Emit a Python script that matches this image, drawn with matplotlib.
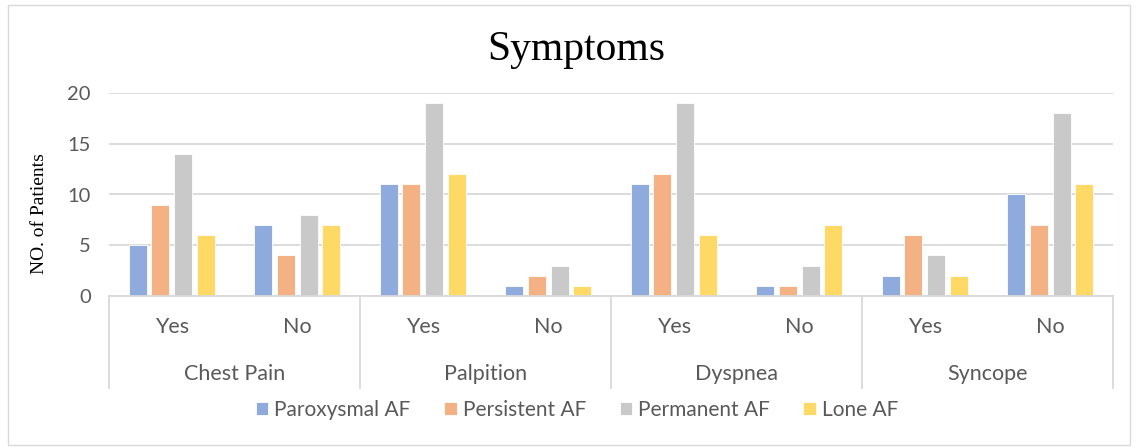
import numpy as np
import matplotlib
matplotlib.use("Agg")
import matplotlib.pyplot as plt
from matplotlib.patches import Rectangle
import matplotlib.transforms as mtransforms

symptoms = ["Chest Pain", "Palpition", "Dyspnea", "Syncope"]
answers = ["Yes", "No"]
series = ["Paroxysmal AF", "Persistent AF", "Permanent AF", "Lone AF"]
paroxysmal = [5, 7, 11, 1, 11, 1, 2, 10]
persistent = [9, 4, 11, 2, 12, 1, 6, 7]
permanent = [14, 8, 19, 3, 19, 3, 4, 18]
lone = [6, 7, 12, 1, 6, 7, 2, 11]
colors = ["#8FAADC", "#F4B183", "#C9C9C9", "#FFD966"]

W, H = 1136, 448
fig = plt.figure(figsize=(W / 100, H / 100), dpi=100)
fig.patches.append(Rectangle((8 / W, 3 / H), 1122 / W, 440 / H, transform=fig.transFigure,
                             fill=False, edgecolor="#D9D9D9", linewidth=1))

left, right, y0, y20 = 109, 1113, 296, 93
ax = fig.add_axes([left / W, 1 - y0 / H, (right - left) / W, (y0 - y20) / H])

x = np.arange(len(paroxysmal))
step, width = 0.181, 0.143
for i, (vals, name, c) in enumerate(zip([paroxysmal, persistent, permanent, lone], series, colors)):
    ax.bar(x + (i - 1.5) * step, vals, width, color=c, edgecolor="white", linewidth=0.6,
           label=name, zorder=3)

ax.set_xlim(-0.5, len(x) - 0.5)
ax.set_ylim(0, 20)
ax.set_yticks([0, 5, 10, 15, 20])
ax.yaxis.grid(True, color="#D9D9D9", linewidth=1.3, zorder=0)
for s in ["top", "right", "left"]:
    ax.spines[s].set_visible(False)
ax.spines["bottom"].set_color("#D9D9D9")
ax.spines["bottom"].set_linewidth(1.3)
ax.spines["bottom"].set_zorder(4)
ax.tick_params(axis="y", length=0, labelsize=14.5, labelcolor="#595959", pad=13)
ax.tick_params(axis="x", length=0, labelbottom=False)
for lbl in ax.get_yticklabels():
    lbl.set_fontfamily("Lato")

# two-level category axis
trans = mtransforms.blended_transform_factory(ax.transData, ax.transAxes)
for k in range(len(symptoms) + 1):
    xb = -0.5 + 2 * k
    ax.plot([xb, xb], [0, -0.453], transform=trans, color="#D9D9D9", linewidth=1.3, clip_on=False)
for j in range(len(x)):
    ax.text(j, -0.153, answers[j % 2], transform=trans, ha="center", va="center",
            fontsize=15.5, color="#595959", family="Lato")
for k, name in enumerate(symptoms):
    ax.text(2 * k + 0.5, -0.384, name, transform=trans, ha="center", va="center",
            fontsize=15.5, color="#595959", family="Lato")

fig.text(0.507, 1 - 50 / H, "Symptoms", ha="center", va="center", fontsize=30,
         family="Liberation Serif", color="black")
fig.text(40 / W, 1 - 214 / H, "NO. of Patients", rotation=90, ha="center", va="center",
         fontsize=14, family="Liberation Serif", color="black")

leg = fig.legend(loc="center", bbox_to_anchor=(0.508, 1 - 410 / H), ncol=4, frameon=False,
                 handlelength=0.6, handleheight=0.6, handletextpad=0.3, columnspacing=1.6,
                 prop={"family": "Lato", "size": 15})
for t in leg.get_texts():
    t.set_color("#595959")

fig.savefig("out.png", dpi=100)
